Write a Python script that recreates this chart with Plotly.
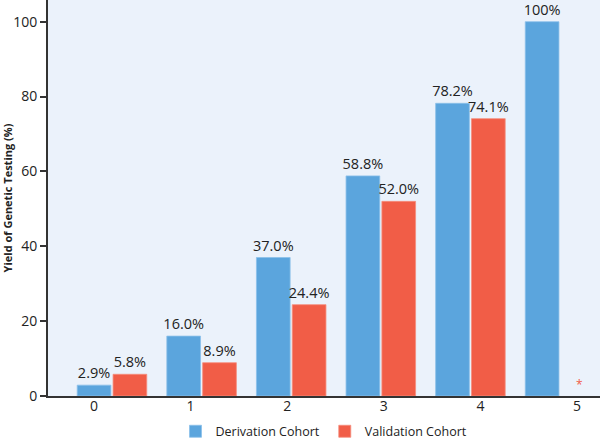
import plotly.graph_objects as go

# Données
categories = [0, 1, 2, 3, 4, 5]
tick_labels = ['0', '1', '2', '3', '4', '5']
derivation = [2.9, 16.0, 37.0, 58.8, 78.2, 100]
validation = [5.8, 8.9, 24.4, 52.0, 74.1, None]
derivation_text = ['2.9%', '16.0%', '37.0%', '58.8%', '78.2%', '100%']
validation_text = ['5.8%', '8.9%', '24.4%', '52.0%', '74.1%', '']

blue = '#5BA5DD'
red = '#F15D47'
font_family = 'Open Sans'

traces = [
    go.Bar(name='Derivation Cohort', x=categories, y=derivation, marker_color=blue,
           marker_line=dict(color='#8CC0EA', width=0.8),
           text=derivation_text, textposition='outside', cliponaxis=False,
           constraintext='none',
           textfont=dict(size=14.5, color='#222')),
    go.Bar(name='Validation Cohort', x=categories, y=validation, marker_color=red,
           marker_line=dict(color='#F58E7E', width=0.8),
           text=validation_text, textposition='outside', cliponaxis=False,
           constraintext='none',
           textfont=dict(size=14.5, color='#222')),
    # trace invisible pour porter l'axe des étiquettes
    go.Scatter(x=categories, y=[None] * len(categories), xaxis='x2',
               showlegend=False, hoverinfo='skip'),
]

fig = go.Figure(data=traces)

fig.add_annotation(x=5, y=0, xref='x', yref='y', text='*', showarrow=False,
                   xshift=19, yshift=12, font=dict(size=12, color=red))

fig.update_layout(
    width=600,
    height=439,
    barmode='group',
    bargap=0.2,
    bargroupgap=0.06,
    paper_bgcolor='white',
    plot_bgcolor='#EBF2FB',
    font=dict(family=font_family, size=14, color='#222'),
    xaxis=dict(
        range=[-0.714, 5.446],
        showticklabels=False,
        ticks='',
        showgrid=False,
        zeroline=False,
        showline=True,
        linecolor='#333',
        linewidth=2,
        automargin=False,
    ),
    xaxis2=dict(
        overlaying='x',
        side='bottom',
        range=[-0.476, 5.238],
        tickmode='array',
        tickvals=categories,
        ticktext=tick_labels,
        ticks='',
        ticklen=0,
        showgrid=False,
        zeroline=False,
        showline=False,
        automargin=False,
        tickfont=dict(size=14, color='#222'),
    ),
    yaxis=dict(
        range=[0, 105.8],
        tickvals=[0, 20, 40, 60, 80, 100],
        ticks='outside',
        ticklen=6,
        tickwidth=1.5,
        tickcolor='#333',
        showgrid=False,
        zeroline=False,
        showline=True,
        linecolor='#333',
        linewidth=2,
        automargin=False,
        tickfont=dict(size=14, color='#222'),
        title=dict(text='<b>Yield of Genetic Testing (%)</b>',
                   font=dict(size=11, color='#222'), standoff=2),
    ),
    legend=dict(
        orientation='h',
        x=0.5,
        xanchor='center',
        y=-0.09,
        yanchor='middle',
        itemwidth=30,
        font=dict(size=12.5, color='#222'),
        bgcolor='rgba(0,0,0,0)',
    ),
    margin=dict(l=48, r=0, t=0, b=43, autoexpand=False),
)

# la page a une marge par défaut de 8px, on la retire
fig.write_html("out.html", config={'displayModeBar': False},
               post_script="document.body.style.margin='0';")
